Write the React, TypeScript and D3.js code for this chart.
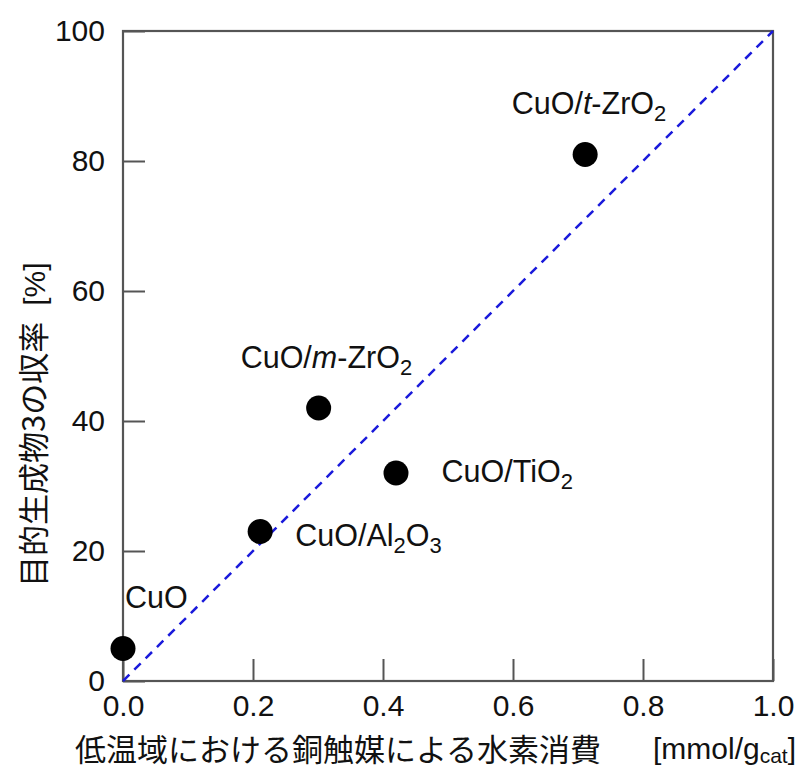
import * as d3 from "d3";
import React, { useEffect, useRef } from "react";

// catalyst points: hydrogen consumption [mmol/g_cat] vs yield [%]
const catalysts = ["CuO", "CuO/Al2O3", "CuO/m-ZrO2", "CuO/TiO2", "CuO/t-ZrO2"];
const h2Consumption = [0.0, 0.211, 0.301, 0.42, 0.711];
const yieldPct = [5, 23, 42, 32, 81];

// label text pieces: [text, style] where style is "n" normal, "i" italic, "s" subscript
const labelParts: [string, string][][] = [
  [["CuO", "n"]],
  [["CuO/Al", "n"], ["2", "s"], ["O", "n"], ["3", "s"]],
  [["CuO/", "n"], ["m", "i"], ["-ZrO", "n"], ["2", "s"]],
  [["CuO/TiO", "n"], ["2", "s"]],
  [["CuO/", "n"], ["t", "i"], ["-ZrO", "n"], ["2", "s"]],
];
// label anchor offsets relative to point (data units)
const labelDx = [0.003, 0.054, -0.12, 0.07, -0.113];
const labelDy = [6.2, -2.2, 6.2, -1.4, 6.2];

const xTicks = [0, 0.2, 0.4, 0.6, 0.8, 1.0];
const yTicks = [0, 20, 40, 60, 80, 100];
const diagonal: [number, number][] = [
  [0, 0],
  [1, 100],
];

const xTitle = "低温域における銅触媒による水素消費";
const yTitle = "目的生成物3の収率";
const yUnit = "[%]";

const FONT = "'Liberation Sans', Arial, sans-serif";
const JP = "'Noto Sans CJK JP', 'Liberation Sans', sans-serif";

const App = () => {
  const svgRef = useRef<SVGSVGElement>(null);

  useEffect(() => {
    document.body.style.margin = "0";
    const width = 803;
    const height = 771;
    const margin = { top: 31, right: 30, bottom: 90, left: 123 };
    const w = width - margin.left - margin.right;
    const h = height - margin.top - margin.bottom;

    const root = d3.select(svgRef.current).attr("width", width).attr("height", height);
    root.selectAll("*").remove();
    root.append("rect").attr("width", width).attr("height", height).attr("fill", "#fff");

    const svg = root.append("g").attr("transform", `translate(${margin.left},${margin.top})`);

    const x = d3.scaleLinear().domain([0, 1]).range([0, w]);
    const y = d3.scaleLinear().domain([0, 100]).range([h, 0]);

    const axisColor = "#555";

    const gx = svg
      .append("g")
      .attr("transform", `translate(0,${h})`)
      .call(
        d3
          .axisBottom(x)
          .tickValues(xTicks)
          .tickFormat(d3.format(".1f"))
          .tickSizeInner(-22)
          .tickSizeOuter(0)
          .tickPadding(14)
      );
    gx.select(".domain").remove();
    gx.selectAll("line").attr("stroke", axisColor).attr("stroke-width", 2);
    gx.selectAll("text").attr("font-family", FONT).attr("font-size", 30).attr("fill", "#111");

    const gy = svg
      .append("g")
      .call(
        d3
          .axisLeft(y)
          .tickValues(yTicks)
          .tickFormat(d3.format("d"))
          .tickSizeInner(-22)
          .tickSizeOuter(0)
          .tickPadding(18)
      );
    gy.select(".domain").remove();
    gy.selectAll("line").attr("stroke", axisColor).attr("stroke-width", 2);
    gy.selectAll("text").attr("font-family", FONT).attr("font-size", 30).attr("fill", "#111");

    // frame
    svg
      .append("rect")
      .attr("width", w)
      .attr("height", h)
      .attr("fill", "none")
      .attr("stroke", axisColor)
      .attr("stroke-width", 2.2);

    // dashed y = 100x line
    const line = d3
      .line<[number, number]>()
      .x((d) => x(d[0]))
      .y((d) => y(d[1]));
    svg
      .append("path")
      .datum(diagonal)
      .attr("fill", "none")
      .attr("stroke", "#1a1adb")
      .attr("stroke-width", 2.5)
      .attr("stroke-dasharray", "9,7")
      .attr("d", line);

    // points
    svg
      .selectAll("circle.pt")
      .data(catalysts)
      .join("circle")
      .attr("class", "pt")
      .attr("cx", (_, i) => x(h2Consumption[i]))
      .attr("cy", (_, i) => y(yieldPct[i]))
      .attr("r", 12.5)
      .attr("fill", "#000");

    // labels
    const fs = 30.5;
    catalysts.forEach((_, i) => {
      const t = svg
        .append("text")
        .attr("x", x(h2Consumption[i] + labelDx[i]))
        .attr("y", y(yieldPct[i] + labelDy[i]))
        .attr("font-family", FONT)
        .attr("font-size", fs)
        .attr("fill", "#111");
      labelParts[i].forEach(([txt, st], k) => {
        const prev = k > 0 ? labelParts[i][k - 1][1] : "n";
        const span = t.append("tspan").text(txt);
        if (st === "i") span.attr("font-style", "italic");
        if (st === "s") span.attr("font-size", fs * 0.72).attr("dy", 7);
        else if (prev === "s") span.attr("dy", -7);
      });
    });

    // x title
    root
      .append("text")
      .attr("x", 75)
      .attr("y", 761)
      .attr("font-family", JP)
      .attr("font-size", 31)
      .attr("fill", "#111")
      .text(xTitle);
    root
      .append("text")
      .attr("x", 653)
      .attr("y", 759)
      .attr("font-family", FONT)
      .attr("font-size", 30)
      .attr("fill", "#111")
      .call((s) => {
        s.append("tspan").text("[mmol/g");
        s.append("tspan").attr("font-size", 21).attr("dy", 4).text("cat");
        s.append("tspan").attr("dy", -4).text("]");
      });

    // y title
    const yt = root
      .append("text")
      .attr("transform", `translate(45,587) rotate(-90)`)
      .attr("font-family", JP)
      .attr("font-size", 31)
      .attr("fill", "#111");
    yt.append("tspan").text(yTitle);
    yt.append("tspan").attr("dx", 16).attr("font-family", FONT).attr("font-size", 30).text(yUnit);

    return () => {
      d3.select(svgRef.current).selectAll("*").remove();
    };
  }, []);

  return (
    <div>
      <svg ref={svgRef} style={{ display: "block" }}></svg>
    </div>
  );
};

export default App;
